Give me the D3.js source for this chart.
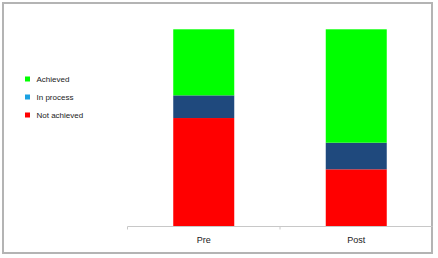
<!DOCTYPE html>
<html>
<head>
<meta charset="utf-8">
<style>
  body { margin: 0; background: #fff; }
  text { font-family: Arial, "Liberation Sans", sans-serif; }
</style>
</head>
<body>
<div id="chart"></div>
<script src="https://cdn.jsdelivr.net/npm/d3@7"></script>
<script>
// data (percent of group)
var categories = ['Pre', 'Post'];
var seriesNames = ['Not achieved', 'In process', 'Achieved'];
var notAchieved = [55, 29];
var inProcess = [11.5, 13.5];
var achieved = [33.5, 57.5];

var legendOrder = ['Achieved', 'In process', 'Not achieved'];
var barColors = { 'Not achieved': '#ff0000', 'In process': '#1f497d', 'Achieved': '#00ff00' };
var legendColors = { 'Not achieved': '#ff0000', 'In process': '#1ba1e2', 'Achieved': '#00ff00' };

var width = 438, height = 258;

var svg = d3.select('#chart').append('svg')
  .attr('width', width)
  .attr('height', height);

// outer frame
svg.append('rect')
  .attr('x', 3).attr('y', 3)
  .attr('width', 429).attr('height', 250)
  .attr('fill', '#fff')
  .attr('stroke', '#b4b4b4')
  .attr('stroke-width', 2);

// build stacked table
var rows = categories.map(function(c, i) {
  return { cat: c, 'Not achieved': notAchieved[i], 'In process': inProcess[i], 'Achieved': achieved[i] };
});
var stacked = d3.stack().keys(seriesNames)(rows);

var x = d3.scaleBand().domain(categories).range([127.5, 432.5]).paddingInner(0).paddingOuter(0);
var y = d3.scaleLinear().domain([0, 100]).range([226.5, 29.3]);

var barW = 61;

var g = svg.append('g');
stacked.forEach(function(layer) {
  g.selectAll(null)
    .data(layer)
    .enter()
    .append('rect')
    .attr('x', function(d) { return x(d.data.cat) + x.bandwidth() / 2 - barW / 2; })
    .attr('y', function(d) { return y(d[1]); })
    .attr('width', barW)
    .attr('height', function(d) { return y(d[0]) - y(d[1]); })
    .attr('fill', barColors[layer.key]);
});

// category axis
var axis = svg.append('g').attr('transform', 'translate(0,226.5)')
  .call(d3.axisBottom(x).tickSize(0).tickPadding(10));
axis.select('.domain').attr('stroke', '#c8c8c8').attr('d', 'M127.5,0H432.5');
axis.selectAll('text').attr('font-size', 9).attr('fill', '#222');

// small ticks between categories
var edges = [x.range()[0], x(categories[1])];
axis.selectAll('.sep').data(edges).enter().append('line')
  .attr('x1', function(d) { return d; }).attr('x2', function(d) { return d; })
  .attr('y1', 0).attr('y2', 3)
  .attr('stroke', '#c8c8c8');

// legend
var legend = svg.append('g');
legendOrder.forEach(function(name, i) {
  var yy = 79 + i * 18;
  legend.append('rect')
    .attr('x', 25).attr('y', yy - 2.5)
    .attr('width', 5).attr('height', 5)
    .attr('fill', legendColors[name]);
  legend.append('text')
    .attr('x', 36.5).attr('y', yy + 3)
    .attr('font-size', 8)
    .attr('fill', '#222')
    .text(name);
});
</script>
</body>
</html>
